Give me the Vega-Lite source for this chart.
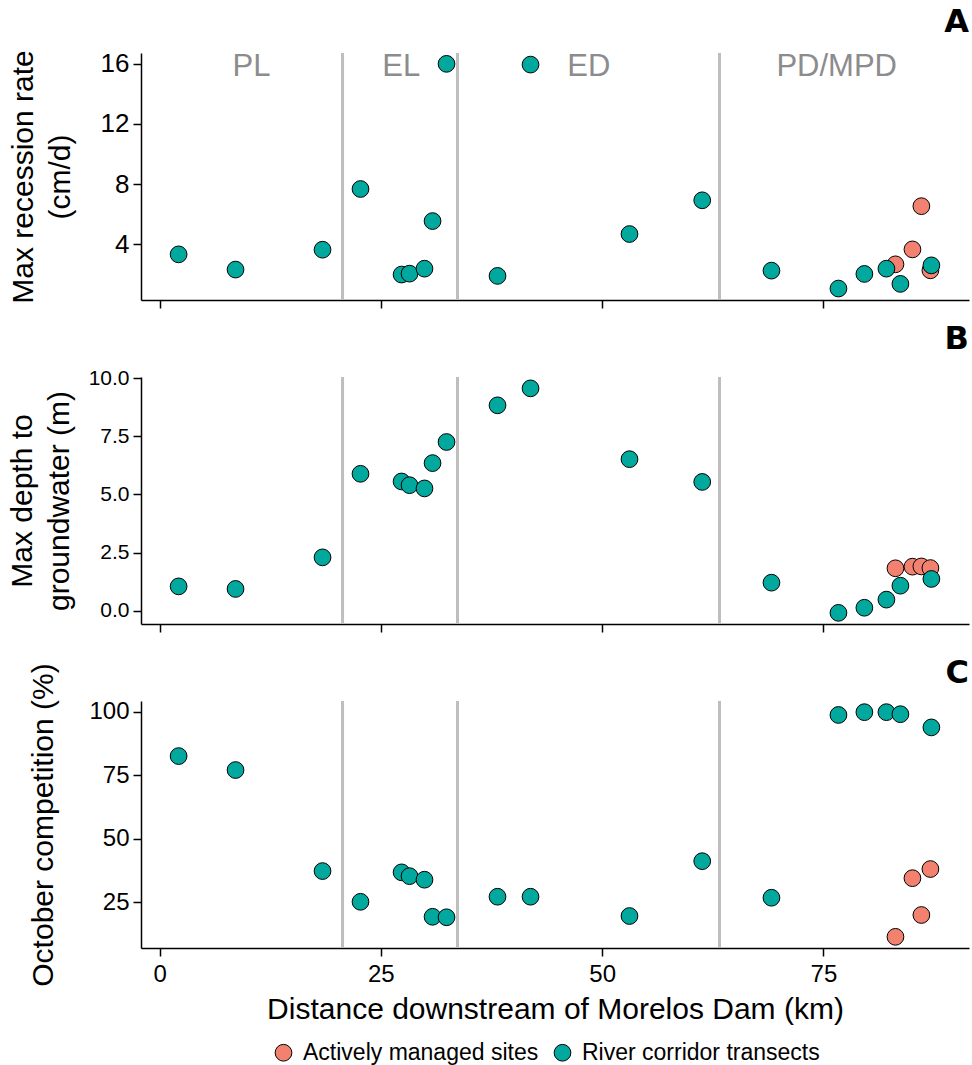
{
  "$schema": "https://vega.github.io/schema/vega-lite/v6.json",
  "background": "white",
  "padding": {"left": 7, "top": 5, "right": 2, "bottom": 2},
  "datasets": {
    "pts": [
      {"km": 83.14, "type": "Actively managed sites", "recession": 2.67, "depth": 1.82, "competition": 11.3},
      {"km": 85.06, "type": "Actively managed sites", "recession": 3.66, "depth": 1.89, "competition": 34.4},
      {"km": 86.07, "type": "Actively managed sites", "recession": 6.53, "depth": 1.90, "competition": 19.9},
      {"km": 87.09, "type": "Actively managed sites", "recession": 2.27, "depth": 1.83, "competition": 38.0},
      {"km": 2.15, "type": "River corridor transects", "recession": 3.33, "depth": 1.04, "competition": 82.5},
      {"km": 8.58, "type": "River corridor transects", "recession": 2.32, "depth": 0.93, "competition": 77.0},
      {"km": 18.41, "type": "River corridor transects", "recession": 3.64, "depth": 2.29, "competition": 37.2},
      {"km": 22.70, "type": "River corridor transects", "recession": 7.67, "depth": 5.89, "competition": 25.1},
      {"km": 27.34, "type": "River corridor transects", "recession": 1.99, "depth": 5.56, "competition": 36.7},
      {"km": 28.24, "type": "River corridor transects", "recession": 2.05, "depth": 5.40, "competition": 35.2},
      {"km": 29.93, "type": "River corridor transects", "recession": 2.38, "depth": 5.26, "competition": 33.8},
      {"km": 30.84, "type": "River corridor transects", "recession": 5.54, "depth": 6.35, "competition": 19.2},
      {"km": 32.42, "type": "River corridor transects", "recession": 15.98, "depth": 7.26, "competition": 19.0},
      {"km": 38.18, "type": "River corridor transects", "recession": 1.90, "depth": 8.84, "competition": 27.1},
      {"km": 41.91, "type": "River corridor transects", "recession": 15.93, "depth": 9.57, "competition": 27.1},
      {"km": 53.09, "type": "River corridor transects", "recession": 4.68, "depth": 6.52, "competition": 19.5},
      {"km": 61.31, "type": "River corridor transects", "recession": 6.92, "depth": 5.54, "competition": 41.1},
      {"km": 69.13, "type": "River corridor transects", "recession": 2.25, "depth": 1.20, "competition": 26.7},
      {"km": 76.70, "type": "River corridor transects", "recession": 1.06, "depth": -0.10, "competition": 98.7},
      {"km": 79.63, "type": "River corridor transects", "recession": 2.03, "depth": 0.12, "competition": 99.8},
      {"km": 82.12, "type": "River corridor transects", "recession": 2.38, "depth": 0.47, "competition": 99.8},
      {"km": 83.70, "type": "River corridor transects", "recession": 1.37, "depth": 1.07, "competition": 99.0},
      {"km": 87.20, "type": "River corridor transects", "recession": 2.60, "depth": 1.36, "competition": 93.8}
    ],
    "bounds": [{"km": 20.67}, {"km": 33.66}, {"km": 63.26}],
    "zones": [
      {"km": 10.39, "y": 15.74, "zone": "PL"},
      {"km": 27.3, "y": 15.74, "zone": "EL"},
      {"km": 48.5, "y": 15.74, "zone": "ED"},
      {"km": 76.5, "y": 15.74, "zone": "PD/MPD"}
    ]
  },
  "config": {
    "view": {"stroke": null},
    "font": "Liberation Sans",
    "concat": {"spacing": 77},
    "axis": {
      "grid": false,
      "domainColor": "black",
      "domainWidth": 1.5,
      "tickColor": "black",
      "tickWidth": 1.5,
      "tickSize": 8,
      "labelColor": "black",
      "labelFont": "Liberation Sans",
      "labelPadding": 4,
      "labelFlush": false,
      "labelOverlap": false,
      "titleColor": "black",
      "titleFont": "Liberation Sans",
      "titleFontWeight": "normal",
      "titleFontSize": 30
    },
    "title": {
      "font": "DejaVu Sans",
      "fontSize": 32,
      "fontWeight": "bold",
      "anchor": "end",
      "color": "black",
      "offset": 11
    },
    "legend": {
      "direction": "horizontal", "title": null,
      "labelFontSize": 23, "labelColor": "black", "labelFont": "Liberation Sans",
      "symbolSize": 280, "symbolStrokeColor": "black", "symbolStrokeWidth": 1, "symbolType": "circle",
      "labelOffset": 8, "columnPadding": 12, "labelLimit": 400
    }
  },
  "bounds": "flush",
  "vconcat": [
    {
      "width": 828,
      "height": 247,
      "title": {"text": "A"},
      "layer": [
        {
          "data": {"name": "bounds"},
          "mark": {"type": "rule", "color": "#BEBEBE", "strokeWidth": 3},
          "encoding": {
            "x": {"field": "km", "type": "quantitative", "scale": {"domain": [-2.1, 91.45], "nice": false, "zero": false}}
          }
        },
        {
          "data": {"name": "zones"},
          "mark": {"type": "text", "color": "#8C8C8C", "fontSize": 31, "baseline": "middle", "align": "center"},
          "encoding": {
            "x": {"field": "km", "type": "quantitative"},
            "y": {"field": "y", "type": "quantitative"},
            "text": {"field": "zone"}
          }
        },
        {
          "data": {"name": "pts"},
          "mark": {"type": "point", "shape": "circle", "filled": true, "size": 280, "stroke": "black", "strokeWidth": 1, "opacity": 1},
          "encoding": {
            "x": {"field": "km", "type": "quantitative"},
            "y": {"field": "recession", "type": "quantitative"},
            "fill": {"field": "type", "type": "nominal", "scale": {"domain": ["Actively managed sites", "River corridor transects"], "range": ["#F28170", "#00A89E"]}, "legend": {"orient": "none", "legendX": 131, "legendY": 988, "direction": "horizontal", "title": null}}
          }
        }
      ],
      "encoding": {
        "x": {"axis": {"values": [0, 25, 50, 75], "labels": false, "title": null}},
        "y": {"scale": {"domain": [0.3, 16.7], "nice": false, "zero": false}, "axis": {"values": [4, 8, 12, 16], "labelFontSize": 26, "title": ["Max recession rate", "(cm/d)"], "titleLineHeight": 37, "titlePadding": 25}}
      }
    },
    {
      "width": 828,
      "height": 247,
      "title": {"text": "B"},
      "layer": [
        {
          "data": {"name": "bounds"},
          "mark": {"type": "rule", "color": "#BEBEBE", "strokeWidth": 3},
          "encoding": {
            "x": {"field": "km", "type": "quantitative", "scale": {"domain": [-2.1, 91.45], "nice": false, "zero": false}}
          }
        },
        {
          "data": {"name": "pts"},
          "mark": {"type": "point", "shape": "circle", "filled": true, "size": 280, "stroke": "black", "strokeWidth": 1, "opacity": 1},
          "encoding": {
            "x": {"field": "km", "type": "quantitative"},
            "y": {"field": "depth", "type": "quantitative"},
            "fill": {"field": "type", "type": "nominal", "legend": {"orient": "none", "legendX": 131, "legendY": 988, "direction": "horizontal", "title": null}}
          }
        }
      ],
      "encoding": {
        "x": {"axis": {"values": [0, 25, 50, 75], "labels": false, "title": null}},
        "y": {"scale": {"domain": [-0.58, 10.06], "nice": false, "zero": false}, "axis": {"values": [0, 2.5, 5, 7.5, 10], "format": ".1f", "labelFontSize": 21, "title": ["Max depth to", "groundwater (m)"], "titleLineHeight": 37, "titlePadding": 14}}
      }
    },
    {
      "width": 828,
      "height": 247,
      "title": {"text": "C", "offset": -27},
      "layer": [
        {
          "data": {"name": "bounds"},
          "mark": {"type": "rule", "color": "#BEBEBE", "strokeWidth": 3},
          "encoding": {
            "x": {"field": "km", "type": "quantitative", "scale": {"domain": [-2.1, 91.45], "nice": false, "zero": false}}
          }
        },
        {
          "data": {"name": "pts"},
          "mark": {"type": "point", "shape": "circle", "filled": true, "size": 280, "stroke": "black", "strokeWidth": 1, "opacity": 1},
          "encoding": {
            "x": {"field": "km", "type": "quantitative"},
            "y": {"field": "competition", "type": "quantitative"},
            "fill": {"field": "type", "type": "nominal", "legend": {"orient": "none", "legendX": 131, "legendY": 988, "direction": "horizontal", "title": null}}
          }
        }
      ],
      "encoding": {
        "x": {"axis": {"values": [0, 25, 50, 75], "labels": true, "labelFontSize": 24, "labelPadding": 6, "title": "Distance downstream of Morelos Dam (km)", "titlePadding": 8}},
        "y": {"scale": {"domain": [6.9, 104.2], "nice": false, "zero": false}, "axis": {"values": [25, 50, 75, 100], "labelFontSize": 24, "title": "October competition (%)", "titlePadding": 30}}
      }
    }
  ]
}
